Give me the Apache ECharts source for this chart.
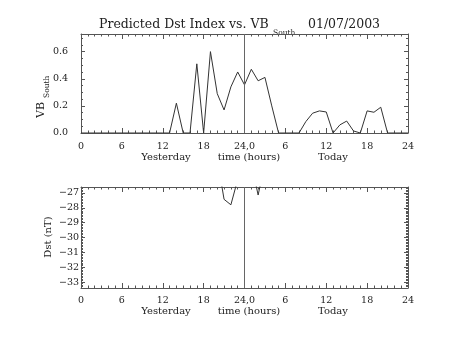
<!DOCTYPE html>
<html><head><meta charset="utf-8">
<script src="https://cdn.jsdelivr.net/npm/echarts@6/dist/echarts.min.js"></script>
<style>html,body{margin:0;padding:0;background:#fff}#c{width:453px;height:340px}</style>
</head><body><div id="c"></div>
<script>
// ---- data ----
const hours = [0,1,2,3,4,5,6,7,8,9,10,11,12,13,14,15,16,17,18,19,20,21,22,23,24,
  25,26,27,28,29,30,31,32,33,34,35,36,37,38,39,40,41,42,43,44,45,46,47,48];
const vbSouth = [0,0,0,0,0,0,0,0,0,0,0,0,0,0,0.22,0,0,0.51,0,0.60,0.29,0.17,0.34,0.45,0.355,
  0.47,0.385,0.41,0.20,0,0,0,0,0.084,0.146,0.163,0.155,0,0.06,0.088,0.015,0,0.163,0.153,0.19,0,0,0,0];
const dstHours = [20,21,22,23,24,25,26,27];
const dstValues = [-24.7,-27.43,-27.8,-26.1,-25.0,-25.0,-27.14,-25.0];
const titleMain = 'Predicted Dst Index vs. VB';
const titleSub = 'South';
const titleDate = '01/07/2003';

const FONT = '"DejaVu Serif", serif';
const TXT = '#222';
const AX = '#555';
const LINE = '#333';

const xFmt = v => v === 24 ? '24,0' : String(v > 24 ? v - 24 : v);
const topYFmt = v => Math.abs(v / 0.2 - Math.round(v / 0.2)) < 1e-6 ? v.toFixed(1) : '';
const botYFmt = v => Math.abs(v - Math.round(v)) < 1e-6 ? '\u2212' + Math.abs(Math.round(v)) : '';

function xAx(grid, pos, labels) {
  return {
    type: 'value', gridIndex: grid, position: pos, min: 0, max: 48, interval: 6,
    axisLine: { show: true, onZero: false, lineStyle: { color: AX, width: 1 } },
    axisTick: { show: true, inside: true, length: 5, lineStyle: { color: AX } },
    minorTick: { show: true, splitNumber: 6, length: 2.5, lineStyle: { color: AX } },
    splitLine: { show: false }, minorSplitLine: { show: false },
    axisLabel: { show: labels, formatter: xFmt, color: TXT, fontFamily: FONT, fontSize: 9.5, margin: grid === 0 ? 9 : 8 }
  };
}
function yAx(grid, pos, labels, min, max, split, minorSplit, fmt, margin) {
  return {
    type: 'value', gridIndex: grid, position: pos, min: min, max: max, splitNumber: split,
    axisLine: { show: true, onZero: false, lineStyle: { color: AX, width: 1 } },
    axisTick: { show: true, inside: true, length: 4, lineStyle: { color: AX } },
    minorTick: { show: true, splitNumber: minorSplit, length: 2, lineStyle: { color: AX } },
    splitLine: { show: false }, minorSplitLine: { show: false },
    axisLabel: { show: labels, formatter: fmt, color: TXT, fontFamily: FONT, fontSize: 9.5, margin: margin }
  };
}
const vline = {
  silent: true, symbol: ['none', 'none'], label: { show: false },
  lineStyle: { color: '#666', width: 1, type: 'solid' },
  data: [{ xAxis: 24 }], animation: false
};

const chart = echarts.init(document.getElementById('c'), null, { renderer: 'canvas' });
chart.setOption({
  animation: false,
  backgroundColor: '#fff',
  grid: [
    { left: 81, top: 34, width: 327, height: 99 },
    { left: 81, top: 187, width: 327, height: 101 }
  ],
  xAxis: [xAx(0, 'bottom', true), xAx(0, 'top', false), xAx(1, 'bottom', true), xAx(1, 'top', false)],
  yAxis: [
    yAx(0, 'left', true, 0, 0.73, 4, 4, topYFmt, 13),
    yAx(0, 'right', false, 0, 0.73, 4, 4, topYFmt, 13),
    yAx(1, 'left', true, -33.4, -26.6, 7, 10, botYFmt, 2),
    yAx(1, 'right', false, -33.4, -26.6, 7, 10, botYFmt, 2)
  ],
  series: [
    { type: 'line', xAxisIndex: 0, yAxisIndex: 0, data: hours.map((h, i) => [h, vbSouth[i]]),
      showSymbol: false, symbol: 'none', clip: true,
      lineStyle: { color: LINE, width: 1 }, markLine: vline },
    { type: 'line', xAxisIndex: 2, yAxisIndex: 2, data: dstHours.map((h, i) => [h, dstValues[i]]),
      showSymbol: false, symbol: 'none', clip: true,
      lineStyle: { color: LINE, width: 1 }, markLine: vline }
  ],
  graphic: [
    { type: 'text', x: 99, y: 25, style: { text: titleMain, font: '12.5px ' + FONT, fill: TXT, align: 'left', verticalAlign: 'middle' } },
    { type: 'text', x: 273, y: 33, style: { text: titleSub, font: '7.5px ' + FONT, fill: TXT, align: 'left', verticalAlign: 'middle' } },
    { type: 'text', x: 308, y: 25, style: { text: titleDate, font: '12.5px ' + FONT, fill: TXT, align: 'left', verticalAlign: 'middle' } },
    { type: 'text', x: 41, y: 118, rotation: Math.PI / 2, style: { text: 'VB', font: '11px ' + FONT, fill: TXT, align: 'left', verticalAlign: 'middle' } },
    { type: 'text', x: 47.5, y: 98, rotation: Math.PI / 2, style: { text: 'South', font: '7.5px ' + FONT, fill: TXT, align: 'left', verticalAlign: 'middle' } },
    { type: 'text', x: 48.5, y: 237, rotation: Math.PI / 2, style: { text: 'Dst (nT)', font: '10px ' + FONT, fill: TXT, align: 'center', verticalAlign: 'middle' } },
    { type: 'text', x: 166, y: 157, style: { text: 'Yesterday', font: '10px ' + FONT, fill: TXT, align: 'center', verticalAlign: 'middle' } },
    { type: 'text', x: 249, y: 157, style: { text: 'time (hours)', font: '10px ' + FONT, fill: TXT, align: 'center', verticalAlign: 'middle' } },
    { type: 'text', x: 333, y: 157, style: { text: 'Today', font: '10px ' + FONT, fill: TXT, align: 'center', verticalAlign: 'middle' } },
    { type: 'text', x: 166, y: 311, style: { text: 'Yesterday', font: '10px ' + FONT, fill: TXT, align: 'center', verticalAlign: 'middle' } },
    { type: 'text', x: 249, y: 311, style: { text: 'time (hours)', font: '10px ' + FONT, fill: TXT, align: 'center', verticalAlign: 'middle' } },
    { type: 'text', x: 333, y: 311, style: { text: 'Today', font: '10px ' + FONT, fill: TXT, align: 'center', verticalAlign: 'middle' } }
  ]
});
</script></body></html>
